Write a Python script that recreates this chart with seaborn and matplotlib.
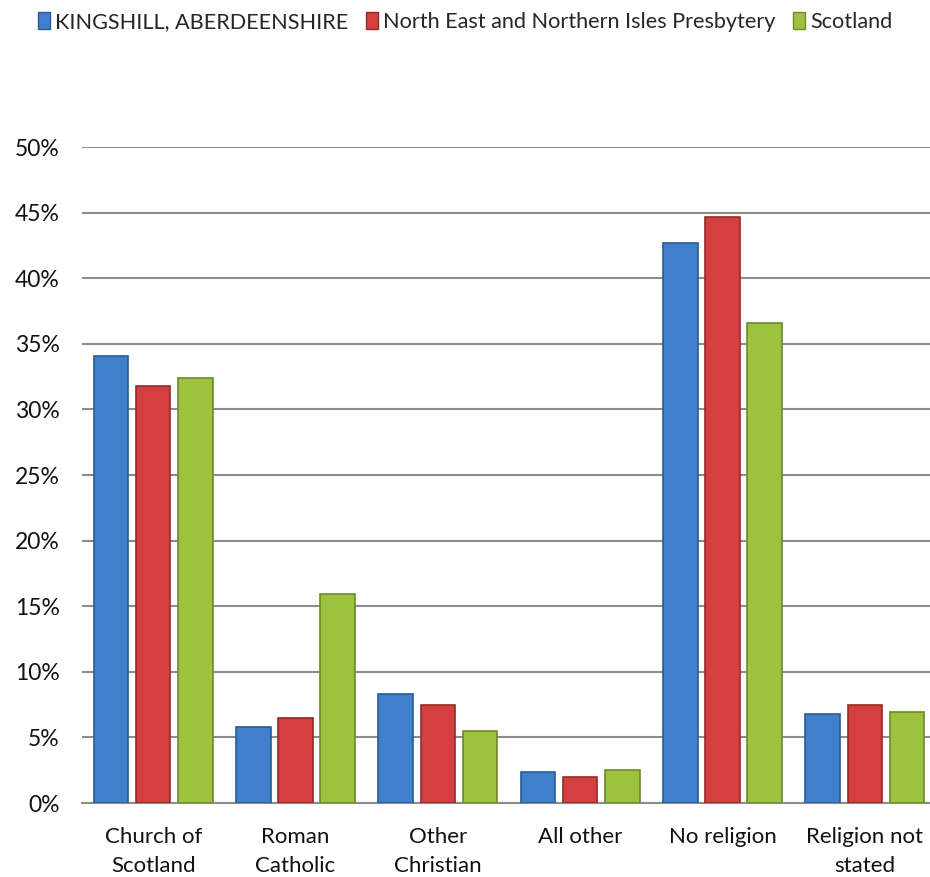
import matplotlib
matplotlib.use("Agg")
import matplotlib.pyplot as plt
import seaborn as sns
import pandas as pd
from matplotlib.patches import Patch

categories = ["Church of\nScotland", "Roman\nCatholic", "Other\nChristian", "All other", "No religion", "Religion not\nstated"]
series_names = ["KINGSHILL, ABERDEENSHIRE", "North East and Northern Isles Presbytery", "Scotland"]
kingshill = [34.1, 5.8, 8.3, 2.35, 42.7, 6.8]
presbytery = [31.8, 6.45, 7.5, 1.95, 44.7, 7.5]
scotland = [32.4, 15.95, 5.45, 2.5, 36.6, 6.9]
yticks = [0, 5, 10, 15, 20, 25, 30, 35, 40, 45, 50]
colors = ["#3F7FCC", "#D43F3F", "#9CC23E"]
edge_colors = ["#2B5A94", "#962A2A", "#6E8A2A"]

rows = []
for name, vals in zip(series_names, [kingshill, presbytery, scotland]):
    for c, v in zip(categories, vals):
        rows.append({"category": c, "series": name, "value": v})
df = pd.DataFrame(rows)

sns.set_theme(style="white")
plt.rcParams['font.family'] = ['Lato', 'DejaVu Sans']

W, H = 930, 877
fig = plt.figure(figsize=(W / 100, H / 100), dpi=100)
ax = fig.add_axes([82 / W, (H - 803) / H, 854 / W, 656 / H])

sns.barplot(data=df, x="category", y="value", hue="series", order=categories,
            hue_order=series_names, palette=colors, width=0.89, gap=0.18,
            saturation=1, legend=False, ax=ax, zorder=3)

for container, ec in zip(ax.containers, edge_colors):
    for bar in container:
        bar.set_edgecolor(ec)
        bar.set_linewidth(1.2)

ax.set_xlim(-0.5, 5.5)
ax.set_ylim(0, 50)
ax.set_yticks(yticks)
ax.set_yticklabels([f"{t}%" for t in yticks])
ax.yaxis.grid(True, color="#8C8C8C", linewidth=1.5, zorder=0)
ax.set_axisbelow(True)
for s in ["left", "right", "top"]:
    ax.spines[s].set_visible(False)
ax.spines["bottom"].set_color("#8C8C8C")
ax.spines["bottom"].set_linewidth(1.5)
ax.set_xlabel("")
ax.set_ylabel("")
ax.tick_params(axis="y", length=0, pad=16, labelsize=16.5, colors="#111111")
ax.tick_params(axis="x", length=0, pad=17, labelsize=16, colors="#111111")
for lbl in ax.get_xticklabels():
    lbl.set_linespacing(1.6)

handles = [Patch(facecolor=c, edgecolor=e) for c, e in zip(colors, edge_colors)]
fig.legend(handles, series_names, loc="center", bbox_to_anchor=(0.5, 1 - 22 / H),
           ncol=3, frameon=False, fontsize=15.6, handlelength=0.55, handleheight=0.85,
           handletextpad=0.25, columnspacing=0.8)

fig.savefig("out.png", dpi=100)
